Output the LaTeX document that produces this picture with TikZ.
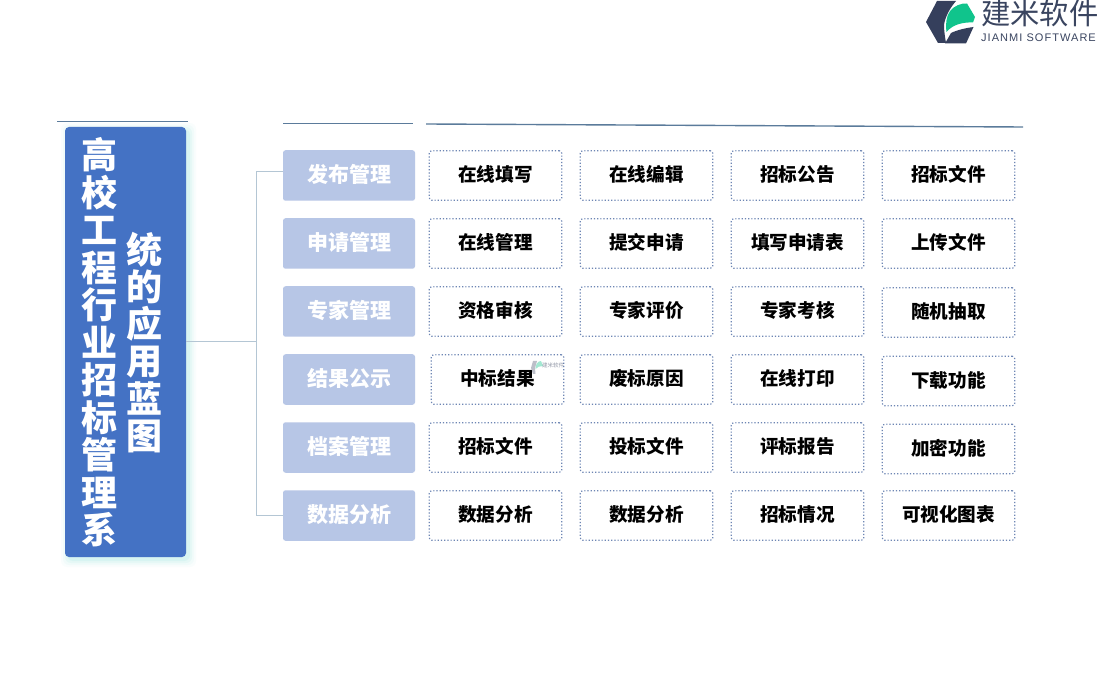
\documentclass[tikz,border=0pt]{standalone}
\usepackage{fontspec}
\setmainfont{Noto Sans CJK SC}
\newfontfamily\latinlogo[LetterSpace=9.5]{Liberation Sans}
\definecolor{rootblue}{HTML}{4472C4}
\definecolor{catblue}{HTML}{B7C6E6}
\definecolor{dotblue}{HTML}{6E86B4}
\definecolor{rulecol}{HTML}{5B7B9B}
\definecolor{linkcol}{HTML}{B4C6D4}
\definecolor{logodark}{HTML}{353F5C}
\definecolor{logogreen}{HTML}{10C48C}
\definecolor{logotext}{HTML}{3A4560}
\definecolor{glow}{HTML}{7FE0D8}
\tikzset{
  x=1pt,y=-1pt,
  rootbox/.style={fill=rootblue,rounded corners=4pt,draw=none},
  catbox/.style={fill=catblue,rounded corners=2.5pt,minimum width=132pt,minimum height=50.5pt,inner sep=0pt,text=white,text height=16.4pt,text depth=2pt,font=\fontsize{21}{24}\selectfont\bfseries},
  cellbox/.style={draw=dotblue,dotted,line width=1.2pt,rounded corners=2.5pt,fill=white,minimum width=132.5pt,minimum height=49.5pt,inner sep=0pt,text=black,text height=14.4pt,text depth=2pt,font=\fontsize{18.6}{22}\selectfont\bfseries},
  toprule/.style={draw=rulecol,line width=1pt},
  linkline/.style={draw=linkcol,line width=1pt},
  vtext/.style={text=white,align=center,inner sep=0pt,font=\fontsize{36}{37.5}\selectfont\bfseries},
}
\begin{document}
\begin{tikzpicture}
\useasboundingbox (0,0) rectangle (1100,700);
\fill[white] (0,0) rectangle (1100,700);
% glow
\foreach \g/\o in {7/0.04,5/0.06,3/0.09,1/0.13}{
  \fill[glow,opacity=\o,rounded corners=6pt] (65-\g+3,127-\g+3) rectangle (186+\g+3,557+\g+3);
}
\node[rootbox,minimum width=121pt,minimum height=430pt,inner sep=0pt] (root) at (125.5,342) {};
\node[vtext] (rootA) at (99,342.5) {高\\校\\工\\程\\行\\业\\招\\标\\管\\理\\系};
\node[vtext,font=\fontsize{36}{37.1}\selectfont\bfseries] (rootB) at (144,342.5) {统\\的\\应\\用\\蓝\\图};
% rules
\coordinate (ra) at (57,121.5); \coordinate (rb) at (188,121.5);
\coordinate (rc) at (283,123.5); \coordinate (rd) at (413,123.5);
\coordinate (re) at (426,124); \coordinate (rf) at (1023,127);
\draw[toprule] (ra) -- (rb);
\draw[toprule] (rc) -- (rd);
\draw[draw=rulecol,line width=1.4pt] (re) -- (rf);
% categories
\node[catbox] (c1) at (349,175.5) {发布管理};
\node[catbox] (c2) at (349,243.5) {申请管理};
\node[catbox] (c3) at (349,311.5) {专家管理};
\node[catbox] (c4) at (349,379.5) {结果公示};
\node[catbox] (c5) at (349,447.5) {档案管理};
\node[catbox] (c6) at (349,515.5) {数据分析};
% connectors
\coordinate (jt) at (256,171.5); \coordinate (jm) at (256,341.5); \coordinate (jb) at (256,515.5);
\draw[linkline] (root.east |- jm) -- (jm);
\draw[linkline] (c1.west |- jt) -- (jt) -- (jb) -- (c6.west |- jb);
% cells
\node[cellbox] (a1) at (495.5,175.5) {在线填写};
\node[cellbox] (a2) at (646.5,175.5) {在线编辑};
\node[cellbox] (a3) at (797.5,175.5) {招标公告};
\node[cellbox] (a4) at (948.5,175.5) {招标文件};
\node[cellbox] (b1) at (495.5,243.5) {在线管理};
\node[cellbox] (b2) at (646.5,243.5) {提交申请};
\node[cellbox] (b3) at (797.5,243.5) {填写申请表};
\node[cellbox] (b4) at (948.5,243.5) {上传文件};
\node[cellbox] (d1) at (495.5,311.5) {资格审核};
\node[cellbox] (d2) at (646.5,311.5) {专家评价};
\node[cellbox] (d3) at (797.5,311.5) {专家考核};
\node[cellbox] (d4) at (948.5,312.5) {随机抽取};
\node[cellbox] (e1) at (497.5,379.5) {中标结果};
\node[cellbox] (e2) at (646.5,379.5) {废标原因};
\node[cellbox] (e3) at (797.5,379.5) {在线打印};
\node[cellbox] (e4) at (948.5,381) {下载功能};
\node[cellbox] (f1) at (495.5,447.5) {招标文件};
\node[cellbox] (f2) at (646.5,447.5) {投标文件};
\node[cellbox] (f3) at (797.5,447.5) {评标报告};
\node[cellbox] (f4) at (948.5,449) {加密功能};
\node[cellbox] (g1) at (495.5,515.5) {数据分析};
\node[cellbox] (g2) at (646.5,515.5) {数据分析};
\node[cellbox] (g3) at (797.5,515.5) {招标情况};
\node[cellbox] (g4) at (948.5,515.5) {可视化图表};
% small watermark
\begin{scope}[opacity=0.55]
\fill[logodark!60] (533,361) -- (537,361) -- (535,368) -- (535.5,374) -- (533,374) -- (531,368) -- cycle;
\fill[logogreen!70] (535.5,369) .. controls (535.5,364) and (538,361) .. (541,361) -- (543,366) .. controls (540,366) and (537,367) .. cycle;
\node[text=logotext,inner sep=0pt,font=\fontsize{5.5}{7}\selectfont] (wm) at (553,365) {建米软件};
\end{scope}
% logo
\fill[logodark] (937,1) -- (956,1) .. controls (949,9) and (945,18) .. (944,25) .. controls (944,31) and (945,37) .. (946,43) -- (938,43) -- (926,22) -- cycle;
\fill[logodark] (945,43.5) -- (951,33) .. controls (957,30) and (966,28) .. (973.5,27) -- (966,43.5) -- cycle;
\fill[logogreen] (946.5,32) .. controls (945.5,24) and (946,17) .. (950,11) .. controls (954,6) and (961,3) .. (967,3.5) -- (975,17) -- (973,22.5) .. controls (964,22) and (953,24) .. cycle;
\node[text=logotext,inner sep=0pt,anchor=west,font=\fontsize{29.3}{30}\selectfont] (logoA) at (981,13) {建米软件};
\node[text=logotext,inner sep=0pt,anchor=west,font=\fontsize{11}{12}\selectfont\latinlogo] (logoB) at (981,38) {JIANMI SOFTWARE};
\end{tikzpicture}
\end{document}
